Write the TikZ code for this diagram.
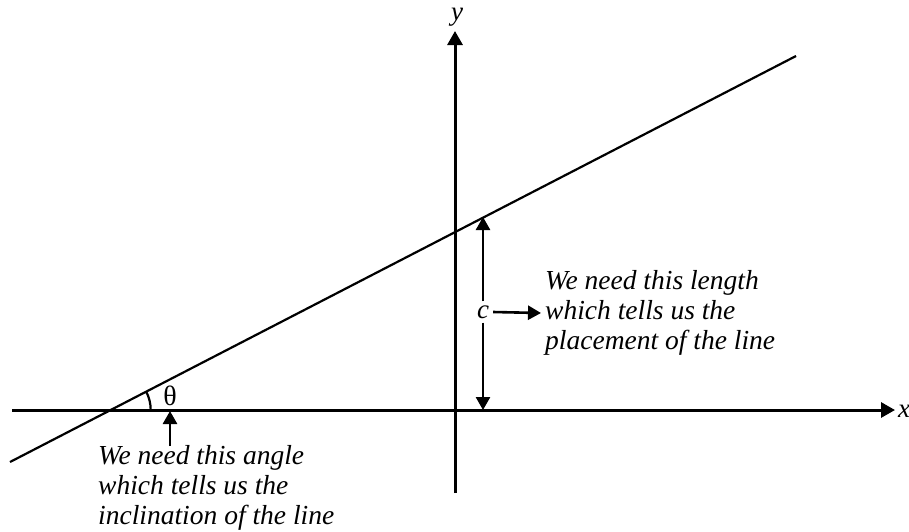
\documentclass[tikz,border=0pt]{standalone}
\usepackage{fontspec}
\setmainfont{Liberation Serif}
\usetikzlibrary{arrows.meta}
\begin{document}
\begin{tikzpicture}[x=1pt,y=-1pt,
  axis/.style={line width=3pt,-{Triangle[length=14pt,width=15pt]}},
  pointer/.style={line width=2.6pt,-{Triangle[length=13pt,width=14pt]}},
  note/.style={font=\itshape\fontsize{27.5}{30}\selectfont,align=left,anchor=west,inner sep=0pt},
  lbl/.style={font=\itshape\fontsize{27}{30}\selectfont,inner sep=1pt}]
\useasboundingbox (0,0) rectangle (909,531);
\coordinate (xs) at (12,410);
\coordinate (xe) at (895,410);
\coordinate (ys) at (455,493);
\coordinate (ye) at (455,31);
\coordinate (ls) at (10,462);
\coordinate (le) at (796,56);
\coordinate (o) at (110.7,410);
\coordinate (ctop) at (483,217);
\coordinate (cbot) at (483,410);
\coordinate (tb) at (170,446);
\coordinate (tt) at (170,411);
\draw[axis] (xs) -- (xe);
\draw[axis] (ys) -- (ye);
\node[lbl,anchor=west,inner sep=0pt] (xl) at (898,411) {x};
\node[lbl] (yl) at (457,17) {y};
\draw[line width=2.2pt] (ls) -- (le);
\node[lbl,inner sep=4pt] (c) at (483,312) {c};
\draw[pointer] (c.north) -- (ctop);
\draw[pointer] (c.south) -- (cbot);
\node[note] (t1) at (545,313) {We need this length\\which tells us the\\placement of the line};
\draw[pointer] (c.east) -- ([xshift=-4pt]t1.west);
\draw[line width=2.2pt] ([shift={(0:40)}]o) arc[start angle=0,end angle=-27.3,radius=40];
\node[font=\fontsize{28}{30}\selectfont,inner sep=0pt] (th) at (170,396) {θ};
\draw[pointer] (tb) -- (tt);
\node[note] (t2) at (98,488) {We need this angle\\which tells us the\\inclination of the line};
\end{tikzpicture}
\end{document}
